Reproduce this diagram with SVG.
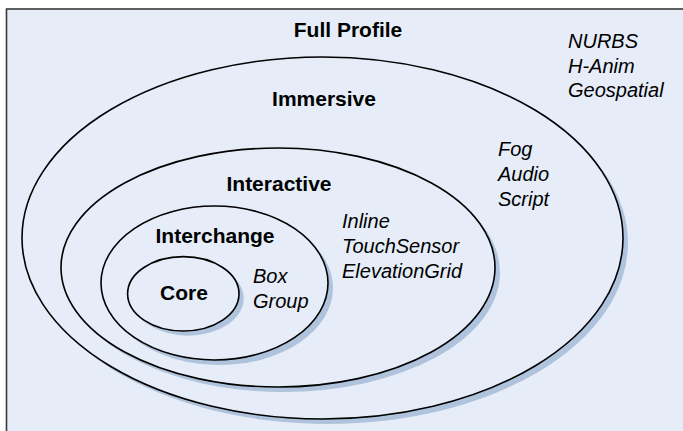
<svg xmlns="http://www.w3.org/2000/svg" width="683" height="431" viewBox="0 0 683 431">
  <defs>
    <filter id="soft" x="-5%" y="-5%" width="110%" height="110%">
      <feGaussianBlur stdDeviation="0.6"/>
    </filter>
    <style>
      .frame { fill: #e6edf8; stroke: #3a3a3a; stroke-width: 1.6; }
      .ring { fill: #e6edf8; stroke: #000; stroke-width: 1.6; }
      .shadow { fill: #afc3dc; filter: url(#soft); }
      .title { font-family: "Liberation Sans", Arial, sans-serif; font-weight: bold; font-size: 21px; fill: #000; text-anchor: middle; }
      .item { font-family: "Liberation Sans", Arial, sans-serif; font-style: italic; font-size: 20px; fill: #000; }
    </style>
  </defs>

  <rect width="683" height="431" fill="#ffffff"/>
  <rect class="frame" x="6.5" y="9" width="700" height="440"/>

  <!-- Full profile: the outermost set, drawn by the frame -->
  <g id="full-profile">
    <text class="title" x="348" y="37">Full Profile</text>
    <text class="item" x="568" y="48">NURBS</text>
    <text class="item" x="568" y="73">H-Anim</text>
    <text class="item" x="568" y="97">Geospatial</text>
  </g>

  <g id="immersive">
    <ellipse class="shadow" cx="327.5" cy="243" rx="300.5" ry="181"/>
    <ellipse class="ring" cx="322.5" cy="238" rx="300.5" ry="181"/>
    <text class="title" x="324" y="106">Immersive</text>
    <text class="item" x="498" y="156">Fog</text>
    <text class="item" x="498" y="181">Audio</text>
    <text class="item" x="498" y="206">Script</text>
  </g>

  <g id="interactive">
    <ellipse class="shadow" cx="283" cy="272.5" rx="217" ry="119.5"/>
    <ellipse class="ring" cx="278" cy="267.5" rx="217" ry="119.5"/>
    <text class="title" x="279" y="191">Interactive</text>
    <text class="item" x="342" y="228">Inline</text>
    <text class="item" x="342" y="253">TouchSensor</text>
    <text class="item" x="342" y="277.5">ElevationGrid</text>
  </g>

  <g id="interchange">
    <ellipse class="shadow" cx="219.5" cy="288" rx="113.5" ry="77"/>
    <ellipse class="ring" cx="214.5" cy="283" rx="113.5" ry="77"/>
    <text class="title" x="215" y="243">Interchange</text>
    <text class="item" x="253" y="283">Box</text>
    <text class="item" x="253" y="307.5">Group</text>
  </g>

  <g id="core">
    <ellipse class="shadow" cx="188" cy="298.5" rx="55.7" ry="37.2"/>
    <ellipse class="ring" cx="183.3" cy="293.8" rx="55.7" ry="37.2"/>
    <text class="title" x="184" y="300">Core</text>
  </g>
</svg>
